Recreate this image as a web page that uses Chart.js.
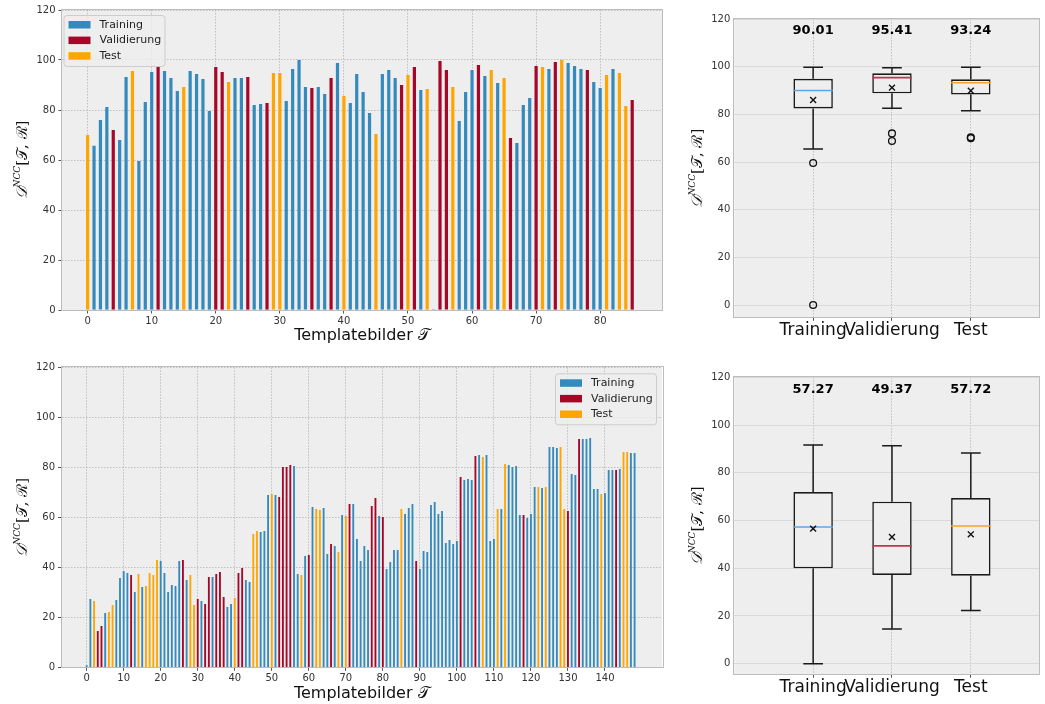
<!DOCTYPE html>
<html><head><meta charset="utf-8">
<script src="https://cdn.jsdelivr.net/npm/chart.js@4.4.1/dist/chart.umd.min.js"></script>
<style>
html,body{margin:0;padding:0;background:#fff;}
body{width:1045px;height:704px;position:relative;overflow:hidden;}
canvas{position:absolute;}
</style></head><body>
<canvas id="barTop" width="680" height="352" style="left:0;top:0"></canvas>
<canvas id="barBottom" width="680" height="352" style="left:0;top:352px"></canvas>
<canvas id="boxTop" width="365" height="352" style="left:680px;top:0"></canvas>
<canvas id="boxBottom" width="365" height="352" style="left:680px;top:352px"></canvas>
<script>
// ---------- data ----------
const categories = ['Training', 'Validierung', 'Test'];
const barColors = ['#348ABD', '#A60628', '#FFA500'];
const medianColors = ['#5AA8EA', '#C8304E', '#F5A623'];
const barYTicks = [0, 20, 40, 60, 80, 100, 120];
const topXTicks = [0, 10, 20, 30, 40, 50, 60, 70, 80];
const bottomXTicks = [0, 10, 20, 30, 40, 50, 60, 70, 80, 90, 100, 110, 120, 130, 140];
const xTitleText = 'Templatebilder 𝒯';
const yTitleParts = ['𝒟', 'NCC', '[𝒯, ℛ]'];

// split: 0 = Training, 1 = Validierung, 2 = Test
const topSplit = [
2,0,0,0,1,0,0,2,0,0,
0,1,0,0,0,2,0,0,0,0,
1,1,2,0,0,1,0,0,1,2,
2,0,0,0,0,1,0,0,1,0,
2,0,0,0,0,2,0,0,0,1,
2,1,0,2,0,1,1,2,0,0,
0,1,0,2,0,2,1,0,0,0,
1,2,0,1,2,0,0,0,1,0,
0,2,0,2,2,1];
const topScores = [
70.0,65.7,76.0,81.2,72.0,68.0,93.2,95.6,59.6,83.2,
95.2,97.2,95.6,92.8,87.6,89.2,95.6,94.4,92.4,79.6,
97.2,95.2,91.2,92.8,92.8,93.2,82.0,82.4,82.8,94.8,
94.8,83.6,96.4,100.0,89.2,88.8,89.2,86.4,92.8,98.8,
85.6,82.8,94.4,87.2,78.8,70.4,94.4,96.0,92.8,90.0,
94.0,97.2,88.0,88.4,0.3,99.6,96.0,89.2,75.6,87.2,
96.0,98.0,93.6,96.0,90.8,92.8,68.8,66.8,82.0,84.8,
97.6,97.2,96.4,99.2,100.0,98.8,97.6,96.4,96.0,91.2,
88.8,94.0,96.4,94.8,81.6,84.0];

const bottomSplit = [
0,0,2,1,1,0,2,2,0,0,
0,0,1,0,2,0,2,2,2,2,
0,0,0,0,0,0,1,0,2,2,
1,0,1,1,0,1,1,1,0,0,
2,1,1,0,0,2,2,0,0,0,
2,0,1,1,1,1,0,0,2,0,
1,0,2,2,0,0,1,0,2,0,
2,1,0,0,0,0,0,1,1,0,
1,0,0,0,0,2,0,0,0,1,
0,0,0,0,0,0,0,0,0,0,
0,1,0,0,0,1,0,2,0,0,
0,2,0,2,0,0,0,0,1,0,
0,0,2,0,2,0,0,0,2,2,
1,0,0,1,0,0,0,0,0,2,
0,0,0,1,0,2,2,0,0];
const bottomScores = [
0.8,27.3,26.5,14.5,16.5,21.7,22.1,24.9,26.9,35.7,
38.5,37.7,36.9,30.1,37.3,32.1,32.5,37.7,36.9,42.9,
42.5,37.7,30.1,32.9,32.5,42.5,42.9,34.9,36.9,24.9,
27.3,26.5,25.3,36.1,36.1,37.3,38.1,28.1,24.1,25.3,
27.7,37.7,39.7,34.9,34.1,53.3,54.5,54.1,54.5,68.9,
69.3,68.9,68.1,80.1,80.1,80.9,80.5,37.3,36.9,44.5,
44.9,64.1,63.3,62.9,63.7,45.3,49.3,48.5,46.1,60.9,
60.5,65.3,65.3,51.3,42.5,48.5,46.9,64.5,67.7,60.5,
60.1,39.3,42.1,46.9,46.9,63.3,61.3,63.7,65.3,42.5,
39.3,46.5,46.1,64.9,66.1,61.3,62.5,49.7,50.9,49.3,
50.5,76.1,74.9,75.3,74.9,84.5,84.9,84.1,84.9,50.5,
51.3,63.3,63.3,81.3,80.9,80.1,80.5,60.9,60.9,59.7,
61.3,72.1,72.1,71.7,72.1,88.1,88.1,87.7,88.1,63.3,
62.5,77.3,76.9,91.3,91.3,91.3,91.7,71.3,71.3,69.3,
69.7,78.9,78.9,78.9,79.3,86.1,86.1,85.7,85.7];

const boxPositions = [1, 2, 3];
const medianLabelY = 115;
const topBoxMin = [65.5, 82.6, 81.5];
const topBoxQ1 = [82.5, 88.8, 88.3];
const topBoxMedian = [90.01, 95.41, 93.24];
const topBoxQ3 = [94.9, 97.2, 94.7];
const topBoxMax = [99.8, 99.5, 99.8];
const topBoxMean = [86.0, 91.2, 89.9];
const topOutliers = [[59.6, 0.0], [72.0, 68.8], [70.0, 70.4]];

const bottomBoxMin = [0.0, 14.5, 22.3];
const bottomBoxQ1 = [40.0, 37.2, 36.9];
const bottomBoxMedian = [57.27, 49.37, 57.72];
const bottomBoxQ3 = [71.9, 67.9, 69.4];
const bottomBoxMax = [91.6, 91.3, 88.3];
const bottomBoxMean = [56.6, 53.1, 54.2];
const bottomOutliers = [[], [], []];

// ---------- plugins ----------
const FONT = '"DejaVu Sans", sans-serif';
const panelPlugin = {
  id: 'panel',
  beforeDraw(chart) {
    const {ctx, chartArea: a} = chart;
    ctx.save(); ctx.fillStyle = '#eeeeee';
    ctx.fillRect(a.left, a.top, a.right - a.left, a.bottom - a.top);
    ctx.restore();
  },
  afterDraw(chart) {
    const {ctx, chartArea: a} = chart;
    ctx.save(); ctx.strokeStyle = '#bcbcbc'; ctx.lineWidth = 1;
    ctx.strokeRect(Math.round(a.left) - 0.5, Math.round(a.top) - 0.5,
      Math.round(a.right - a.left) + 1, Math.round(a.bottom - a.top) + 1);
    ctx.restore();
  }
};

const titlePlugin = {
  id: 'axisTitles',
  afterDraw(chart, args, o) {
    const {ctx, chartArea: a} = chart;
    ctx.save();
    ctx.fillStyle = '#111';
    if (o.xTitle) {
      ctx.font = '16px ' + FONT; ctx.textAlign = 'center'; ctx.textBaseline = 'middle';
      ctx.fillText(o.xTitle, (a.left + a.right) / 2, a.bottom + o.xDy);
    }
    const parts = [
      {text: yTitleParts[0], font: 'italic 15px "DejaVu Serif", serif', dy: 0},
      {text: yTitleParts[1], font: 'italic 9px "DejaVu Serif", serif', dy: -7},
      {text: yTitleParts[2], font: '15px "DejaVu Serif", serif', dy: 0}
    ];
    ctx.translate(o.yX, (a.top + a.bottom) / 2);
    ctx.rotate(-Math.PI / 2);
    let total = 0;
    parts.forEach(p => { ctx.font = p.font; total += ctx.measureText(p.text).width; });
    let x = -total / 2;
    ctx.textAlign = 'left'; ctx.textBaseline = 'alphabetic';
    parts.forEach(p => { ctx.font = p.font; ctx.fillText(p.text, x, 5 + p.dy); x += ctx.measureText(p.text).width; });
    ctx.restore();
  }
};

const innerLegendPlugin = {
  id: 'innerLegend',
  afterDraw(chart, args, o) {
    if (!o.corner) return;
    const {ctx, chartArea: a} = chart;
    const w = 101, h = 51;
    const x0 = o.corner === 'left' ? a.left + 1.5 : a.right - 6 - w;
    const y0 = a.top + (o.corner === 'left' ? 5 : 6);
    ctx.save();
    ctx.beginPath();
    ctx.roundRect(x0 + 0.5, y0 + 0.5, w, h, 3);
    ctx.fillStyle = 'rgba(238,238,238,0.8)'; ctx.fill();
    ctx.strokeStyle = '#cccccc'; ctx.lineWidth = 1; ctx.stroke();
    ctx.font = '11px ' + FONT; ctx.textBaseline = 'middle'; ctx.textAlign = 'left';
    chart.data.datasets.forEach((d, i) => {
      const py = y0 + 6 + i * 15.6;
      ctx.fillStyle = d.backgroundColor;
      ctx.fillRect(x0 + 5, py, 22, 7.5);
      ctx.fillStyle = '#222';
      ctx.fillText(d.label, x0 + 36, py + 4);
    });
    ctx.restore();
  }
};

const medianLabelPlugin = {
  id: 'medianLabels',
  afterDraw(chart, args, o) {
    if (!o.values) return;
    const {ctx, scales} = chart;
    ctx.save();
    ctx.font = 'bold 13px ' + FONT; ctx.fillStyle = '#000';
    ctx.textAlign = 'center'; ctx.textBaseline = 'middle';
    o.values.forEach((v, i) => {
      ctx.fillText(v.toFixed(2), scales.x.getPixelForValue(boxPositions[i]), scales.y.getPixelForValue(medianLabelY));
    });
    ctx.restore();
  }
};

// ---------- builders ----------
function barChart(id, scores, split, xRange, xTicks, corner, g) {
  const datasets = categories.map((name, s) => ({
    type: 'bar', label: name,
    data: scores.map((v, i) => ({x: i, y: v})).filter((p, i) => split[i] === s),
    backgroundColor: barColors[s], borderWidth: 0,
    grouped: false, categoryPercentage: 1, barPercentage: 0.5
  }));
  return new Chart(document.getElementById(id), {
    type: 'bar',
    data: {datasets},
    options: {
      responsive: false, animation: false, events: [], devicePixelRatio: 1,
      layout: {padding: {left: 0, top: g.top, right: g.right, bottom: 0}},
      plugins: {
        legend: {display: false}, tooltip: {enabled: false},
        innerLegend: {corner},
        axisTitles: {xTitle: xTitleText, xDy: g.xDy, yX: g.yX}
      },
      scales: {
        x: {
          type: 'linear', min: xRange[0], max: xRange[1], offset: false,
          grid: {color: '#b2b2b2', lineWidth: 0.8, offset: false, tickLength: 3.5, tickColor: '#555', tickWidth: 1},
          border: {display: false, dash: [1.5, 1.5]},
          ticks: {font: {family: FONT, size: 10}, color: '#333', padding: 2, maxRotation: 0, autoSkip: false},
          afterBuildTicks: s => { s.ticks = xTicks.map(v => ({value: v})); },
          afterFit: s => { s.height = g.xh; }
        },
        y: {
          type: 'linear', min: 0, max: 120,
          grid: {color: '#b2b2b2', lineWidth: 0.8, tickLength: 3.5, tickColor: '#555', tickWidth: 1},
          border: {display: false, dash: [1.5, 1.5]},
          ticks: {font: {family: FONT, size: 10}, color: '#333', padding: 3},
          afterBuildTicks: s => { s.ticks = barYTicks.map(v => ({value: v})); },
          afterFit: s => { s.width = g.yw; }
        }
      }
    },
    plugins: [panelPlugin, innerLegendPlugin, titlePlugin]
  });
}

function boxChart(id, st, yMin, g) {
  const cap = 0.125, half = 0.25;
  const whisk = [];
  boxPositions.forEach((p, i) => {
    whisk.push({x: p, y: st.q3[i]}, {x: p, y: st.max[i]}, {x: p, y: null},
               {x: p, y: st.q1[i]}, {x: p, y: st.min[i]}, {x: p, y: null},
               {x: p - cap, y: st.max[i]}, {x: p + cap, y: st.max[i]}, {x: p, y: null},
               {x: p - cap, y: st.min[i]}, {x: p + cap, y: st.min[i]}, {x: p, y: null});
  });
  const datasets = [
    {type: 'line', label: 'whiskers', data: whisk, borderColor: '#1a1a1a', borderWidth: 1.5, pointRadius: 0, spanGaps: false, order: 3},
    {type: 'bar', label: 'boxes', data: boxPositions.map((p, i) => ({x: p, y: [st.q1[i], st.q3[i]]})),
     backgroundColor: '#eeeeee', borderColor: '#1a1a1a', borderWidth: 1.6, borderSkipped: false,
     grouped: false, categoryPercentage: 1, barPercentage: 0.5, order: 2},
    ...boxPositions.map((p, i) => ({type: 'line', label: 'median ' + categories[i],
      data: [{x: p - half, y: st.median[i]}, {x: p + half, y: st.median[i]}],
      borderColor: medianColors[i], borderWidth: 1.6, pointRadius: 0, order: 1})),
    {type: 'scatter', label: 'mean', data: boxPositions.map((p, i) => ({x: p, y: st.mean[i]})),
     pointStyle: 'crossRot', pointRadius: 4.2, borderColor: '#111', backgroundColor: '#111', borderWidth: 1.4, order: 0},
    {type: 'scatter', label: 'outliers', data: st.outliers.flatMap((arr, i) => arr.map(v => ({x: boxPositions[i], y: v}))),
     pointStyle: 'circle', pointRadius: 3.4, borderColor: '#111', backgroundColor: 'rgba(0,0,0,0)', borderWidth: 1.3, order: 0}
  ];
  return new Chart(document.getElementById(id), {
    type: 'scatter',
    data: {datasets},
    options: {
      responsive: false, animation: false, events: [], devicePixelRatio: 1,
      layout: {padding: {left: 0, top: g.top, right: g.right, bottom: 0}},
      plugins: {
        legend: {display: false}, tooltip: {enabled: false},
        axisTitles: {yX: g.yX},
        medianLabels: {values: st.median}
      },
      scales: {
        x: {
          type: 'linear', min: 0, max: 3.87, offset: false,
          grid: {color: '#b2b2b2', lineWidth: 0.8, offset: false, tickLength: 3.5, tickColor: '#555', tickWidth: 1},
          border: {display: false, dash: [1.5, 1.5]},
          ticks: {font: {family: FONT, size: 17}, color: '#111', padding: 0, maxRotation: 0, autoSkip: false,
                  callback: v => categories[boxPositions.indexOf(v)]},
          afterBuildTicks: s => { s.ticks = boxPositions.map(v => ({value: v})); },
          afterFit: s => { s.height = g.xh; }
        },
        y: {
          type: 'linear', min: yMin, max: 120,
          grid: {color: '#dadada', lineWidth: 1, tickLength: 0, drawTicks: false},
          border: {display: false},
          ticks: {font: {family: FONT, size: 10}, color: '#333', padding: 4},
          afterBuildTicks: s => { s.ticks = barYTicks.map(v => ({value: v})); },
          afterFit: s => { s.width = g.yw; }
        }
      }
    },
    plugins: [panelPlugin, titlePlugin, medianLabelPlugin]
  });
}

barChart('barTop', topScores, topSplit, [-4.0, 89.65], topXTicks, 'left',
  {yw: 62, top: 10, right: 18, xh: 42, xDy: 26, yX: 22});
barChart('barBottom', bottomScores, bottomSplit, [-6.8, 155.4], bottomXTicks, 'right',
  {yw: 61.5, top: 15.3, right: 18, xh: 36.7, xDy: 26.5, yX: 22});
boxChart('boxTop', {min: topBoxMin, q1: topBoxQ1, median: topBoxMedian, q3: topBoxQ3, max: topBoxMax, mean: topBoxMean, outliers: topOutliers},
  -5.16, {yw: 54.3, top: 19, right: 3, xh: 34.7, yX: 17});
boxChart('boxBottom', {min: bottomBoxMin, q1: bottomBoxQ1, median: bottomBoxMedian, q3: bottomBoxQ3, max: bottomBoxMax, mean: bottomBoxMean, outliers: bottomOutliers},
  -4.44, {yw: 54.3, top: 25.3, right: 3, xh: 29.7, yX: 17});
</script>
</body></html>
